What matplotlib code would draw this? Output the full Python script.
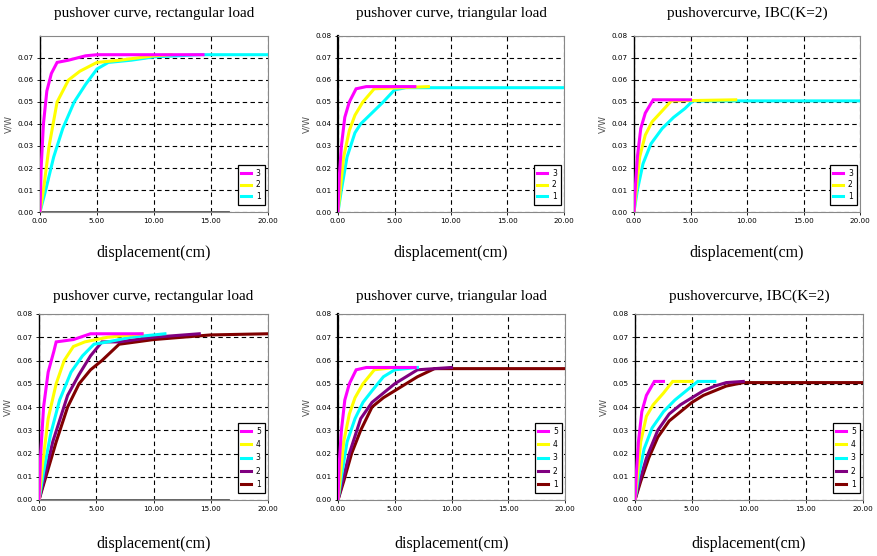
import matplotlib
matplotlib.use("Agg")
import matplotlib.pyplot as plt

# ---------------- data ----------------
titles_top = ["pushover curve, rectangular load", "pushover curve, triangular load", "pushovercurve, IBC(K=2)"]
titles_bot = titles_top
xlabel = "displacement(cm)"
ylabel = "V/W"
x_ticks = [0, 5, 10, 15, 20]
x_ticklabels = ["0.00", "5.00", "10.00", "15.00", "20.00"]
y_ticks = [0.0, 0.01, 0.02, 0.03, 0.04, 0.05, 0.06, 0.07, 0.08]
y_ticklabels = ["0.00", "0.01", "0.02", "0.03", "0.04", "0.05", "0.06", "0.07", "0.08"]

# top-left: rectangular load, 3 storeys
rect3_s3_x = [0, 0.1, 0.3, 0.6, 1.0, 1.5, 2.5, 4.0, 5.0, 14.3]
rect3_s3_y = [0, 0.02, 0.04, 0.055, 0.063, 0.068, 0.069, 0.071, 0.0715, 0.0715]
rect3_s2_x = [0, 0.3, 0.8, 1.5, 2.5, 3.5, 5.0, 7.0, 10.0, 11.5]
rect3_s2_y = [0, 0.01, 0.03, 0.05, 0.06, 0.064, 0.068, 0.069, 0.071, 0.0715]
rect3_s1_x = [0, 0.5, 1.2, 2.0, 3.0, 4.0, 5.0, 6.0, 8.0, 10.0, 14.0, 20.0]
rect3_s1_y = [0, 0.01, 0.025, 0.038, 0.05, 0.058, 0.065, 0.068, 0.069, 0.0705, 0.0715, 0.0715]
rect3_base_x = [0, 16.5]
rect3_base_y = [0, 0]

# top-middle: triangular load, 3 storeys
tri3_s3_x = [0, 0.1, 0.3, 0.6, 1.0, 1.6, 2.5, 6.8]
tri3_s3_y = [0, 0.015, 0.03, 0.043, 0.05, 0.056, 0.057, 0.057]
tri3_s2_x = [0, 0.2, 0.5, 1.0, 1.5, 2.2, 3.2, 8.0]
tri3_s2_y = [0, 0.01, 0.025, 0.037, 0.044, 0.05, 0.056, 0.057]
tri3_s1_x = [0, 0.3, 0.8, 1.5, 2.0, 3.0, 4.0, 5.0, 6.0, 20.0]
tri3_s1_y = [0, 0.01, 0.025, 0.036, 0.04, 0.045, 0.05, 0.0555, 0.0565, 0.0565]

# top-right: IBC, 3 storeys
ibc3_s3_x = [0, 0.1, 0.3, 0.6, 1.0, 1.7, 5.0]
ibc3_s3_y = [0, 0.01, 0.025, 0.038, 0.045, 0.051, 0.051]
ibc3_s2_x = [0, 0.2, 0.5, 1.0, 1.6, 2.5, 3.3, 9.0]
ibc3_s2_y = [0, 0.01, 0.025, 0.035, 0.041, 0.046, 0.0505, 0.051]
ibc3_s1_x = [0, 0.3, 0.8, 1.5, 2.5, 3.5, 4.5, 5.2, 20.0]
ibc3_s1_y = [0, 0.01, 0.022, 0.031, 0.038, 0.043, 0.047, 0.0505, 0.0505]

# bottom-left: rectangular load, 5 storeys
rect5_s5_x = [0, 0.15, 0.4, 0.8, 1.3, 1.5, 3.0, 4.5, 9.0]
rect5_s5_y = [0, 0.02, 0.04, 0.055, 0.064, 0.068, 0.069, 0.0715, 0.0715]
rect5_s4_x = [0, 0.3, 0.8, 1.5, 2.2, 3.0, 4.0, 6.0, 9.0]
rect5_s4_y = [0, 0.015, 0.035, 0.05, 0.06, 0.066, 0.068, 0.07, 0.0715]
rect5_s3_x = [0, 0.4, 1.0, 1.8, 2.8, 3.8, 4.8, 6.0, 8.0, 11.0]
rect5_s3_y = [0, 0.012, 0.028, 0.043, 0.055, 0.062, 0.067, 0.068, 0.07, 0.0715]
rect5_s2_x = [0, 0.5, 1.2, 2.5, 3.5, 4.5, 5.5, 7.0, 10.0, 14.0]
rect5_s2_y = [0, 0.01, 0.025, 0.045, 0.054, 0.062, 0.068, 0.068, 0.07, 0.0715]
rect5_s1_x = [0, 0.6, 1.5, 2.5, 3.5, 4.5, 5.5, 7.0, 10.0, 15.0, 20.0]
rect5_s1_y = [0, 0.01, 0.025, 0.04, 0.05, 0.056, 0.06, 0.067, 0.069, 0.071, 0.0715]
rect5_base_x = [0, 16.5]
rect5_base_y = [0, 0]

# bottom-middle: triangular load, 5 storeys
tri5_s5_x = [0, 0.1, 0.3, 0.6, 1.0, 1.6, 2.5, 6.8]
tri5_s5_y = [0, 0.015, 0.03, 0.043, 0.05, 0.056, 0.057, 0.057]
tri5_s4_x = [0, 0.2, 0.5, 1.0, 1.5, 2.2, 3.2, 5.0]
tri5_s4_y = [0, 0.01, 0.025, 0.037, 0.044, 0.05, 0.056, 0.057]
tri5_s3_x = [0, 0.3, 0.8, 1.5, 2.2, 3.0, 4.0, 5.0, 7.0]
tri5_s3_y = [0, 0.01, 0.025, 0.035, 0.042, 0.047, 0.053, 0.056, 0.057]
tri5_s2_x = [0, 0.4, 1.0, 2.0, 3.0, 4.0, 5.0, 6.0, 7.0, 10.0]
tri5_s2_y = [0, 0.008, 0.02, 0.035, 0.042, 0.046, 0.05, 0.053, 0.056, 0.057]
tri5_s1_x = [0, 0.5, 1.2, 2.0, 3.0, 4.0, 5.0, 6.0, 7.0, 8.5, 20.0]
tri5_s1_y = [0, 0.008, 0.02, 0.03, 0.04, 0.044, 0.047, 0.05, 0.053, 0.0565, 0.0565]

# bottom-right: IBC, 5 storeys
ibc5_s5_x = [0, 0.1, 0.3, 0.6, 1.0, 1.7, 2.5]
ibc5_s5_y = [0, 0.01, 0.025, 0.038, 0.045, 0.051, 0.051]
ibc5_s4_x = [0, 0.2, 0.5, 1.0, 1.6, 2.5, 3.3, 5.0]
ibc5_s4_y = [0, 0.01, 0.025, 0.036, 0.041, 0.046, 0.051, 0.051]
ibc5_s3_x = [0, 0.3, 0.8, 1.5, 2.5, 3.5, 4.5, 5.5, 7.0]
ibc5_s3_y = [0, 0.01, 0.022, 0.031, 0.038, 0.043, 0.047, 0.051, 0.051]
ibc5_s2_x = [0, 0.4, 1.0, 2.0, 3.0, 4.0, 5.0, 6.0, 7.0, 8.0, 9.5]
ibc5_s2_y = [0, 0.008, 0.018, 0.03, 0.037, 0.041, 0.044, 0.047, 0.049, 0.0505, 0.051]
ibc5_s1_x = [0, 0.5, 1.2, 2.0, 3.0, 4.0, 5.0, 6.0, 7.0, 8.0, 9.5, 20.0]
ibc5_s1_y = [0, 0.008, 0.018, 0.027, 0.034, 0.038, 0.042, 0.045, 0.047, 0.049, 0.0505, 0.0505]

series_labels_3 = ["3", "2", "1"]
series_labels_5 = ["5", "4", "3", "2", "1"]

# ---------------- style ----------------
colors5 = ["#FF00FF", "#FFFF00", "#00FFFF", "#800080", "#800000"]
colors3 = ["#FF00FF", "#FFFF00", "#00FFFF"]

fig = plt.figure(figsize=(8.77, 5.56), dpi=100)

W, H = 877, 556
def add_ax(x0, x1, ytop, ybot):
    return fig.add_axes([x0 / W, 1 - ybot / H, (x1 - x0) / W, (ybot - ytop) / H])

axes_pix = [
    (40, 268, 36, 212), (338, 564, 36, 212), (634, 860, 36, 212),
    (39, 268, 314, 500), (338, 565, 314, 500), (635, 863, 314, 500),
]

panels = [
    ([(rect3_s3_x, rect3_s3_y), (rect3_s2_x, rect3_s2_y), (rect3_s1_x, rect3_s1_y)], series_labels_3, colors3, titles_top[0], (rect3_base_x, rect3_base_y)),
    ([(tri3_s3_x, tri3_s3_y), (tri3_s2_x, tri3_s2_y), (tri3_s1_x, tri3_s1_y)], series_labels_3, colors3, titles_top[1], None),
    ([(ibc3_s3_x, ibc3_s3_y), (ibc3_s2_x, ibc3_s2_y), (ibc3_s1_x, ibc3_s1_y)], series_labels_3, colors3, titles_top[2], None),
    ([(rect5_s5_x, rect5_s5_y), (rect5_s4_x, rect5_s4_y), (rect5_s3_x, rect5_s3_y), (rect5_s2_x, rect5_s2_y), (rect5_s1_x, rect5_s1_y)], series_labels_5, colors5, titles_bot[0], (rect5_base_x, rect5_base_y)),
    ([(tri5_s5_x, tri5_s5_y), (tri5_s4_x, tri5_s4_y), (tri5_s3_x, tri5_s3_y), (tri5_s2_x, tri5_s2_y), (tri5_s1_x, tri5_s1_y)], series_labels_5, colors5, titles_bot[1], None),
    ([(ibc5_s5_x, ibc5_s5_y), (ibc5_s4_x, ibc5_s4_y), (ibc5_s3_x, ibc5_s3_y), (ibc5_s2_x, ibc5_s2_y), (ibc5_s1_x, ibc5_s1_y)], series_labels_5, colors5, titles_bot[2], None),
]

serif = "Liberation Serif"

for i, (pix, (series, labels, cols, title, base)) in enumerate(zip(axes_pix, panels)):
    ax = add_ax(*pix)
    if base is not None:
        ax.plot(base[0], base[1], color="#555555", lw=2.0, zorder=2)
    handles = []
    for (xs, ys), lab, c in reversed(list(zip(series, labels, cols))):
        h, = ax.plot(xs, ys, color=c, lw=2.2, label=lab, zorder=3, solid_joinstyle="miter")
        handles.append(h)
    handles = handles[::-1]
    ax.set_xlim(0, 20)
    ax.set_ylim(0, 0.08)
    ax.set_xticks(x_ticks)
    ax.set_xticklabels(x_ticklabels)
    if i == 0:
        ax.set_yticks(y_ticks[:-1])
        ax.set_yticklabels(y_ticklabels[:-1])
    else:
        ax.set_yticks(y_ticks)
        ax.set_yticklabels(y_ticklabels)
    ax.tick_params(axis="both", labelsize=5.2, length=2.5, width=0.6, direction="out", pad=2,
                   colors="black")
    ax.grid(True, color="black", linestyle=(0, (4, 3)), linewidth=0.8)
    ax.set_axisbelow(True)
    for s in ("top", "right", "bottom"):
        ax.spines[s].set_color("#888888")
        ax.spines[s].set_linewidth(0.8)
    ax.spines["left"].set_color("black")
    ax.spines["left"].set_linewidth(1.6 if i in (1, 4) else 1.0)
    ax.set_title(title, fontfamily=serif, fontsize=11, pad=14 if i < 3 else 10)
    ax.set_xlabel(xlabel, fontfamily=serif, fontsize=11.5, labelpad=15 if i < 3 else 17)
    ax.set_ylabel(ylabel, fontsize=6.5, color="#555555", labelpad=3)
    leg = ax.legend(handles=handles, loc="lower right", bbox_to_anchor=(0.985, 0.04),
                    fontsize=5.5, handlelength=1.3, handletextpad=0.6,
                    labelspacing=0.35 if i < 3 else 0.55,
                    borderpad=0.5, frameon=True, fancybox=False, framealpha=1,
                    borderaxespad=0.0)
    leg.get_frame().set_edgecolor("black")
    leg.get_frame().set_linewidth(0.9)

fig.savefig("out.png", dpi=100)
